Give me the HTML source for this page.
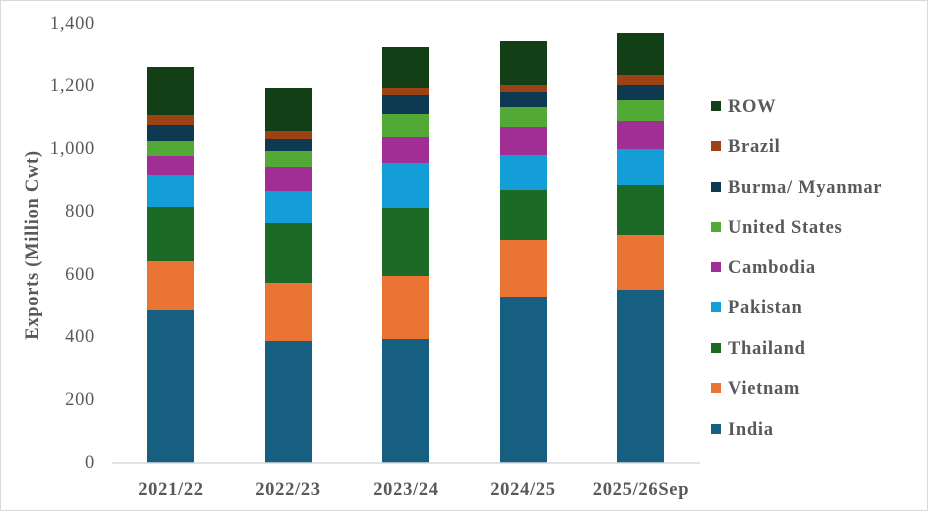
<!DOCTYPE html>
<html><head><meta charset="utf-8"><style>
body{margin:0;background:#fff}
svg{display:block}
text{font-family:"Liberation Serif",serif;fill:#595959;letter-spacing:0.7px}
</style></head><body>
<svg width="929" height="514" xmlns="http://www.w3.org/2000/svg">
<rect x="0.5" y="0.5" width="927" height="510" fill="#fff" stroke="#d9d9d9"/>
<g font-size="18.5" text-anchor="end">
<text x="95" y="468">0</text>
<text x="95" y="405">200</text>
<text x="95" y="342">400</text>
<text x="95" y="280">600</text>
<text x="95" y="217">800</text>
<text x="95" y="154">1,000</text>
<text x="95" y="91">1,200</text>
<text x="95" y="29">1,400</text>
</g>
<text transform="translate(38,245) rotate(-90)" font-size="18.5" font-weight="bold" text-anchor="middle">Exports (Million Cwt)</text>
<g>
<rect x="147" y="310" width="47" height="153" fill="#175f80"/>
<rect x="147" y="261" width="47" height="49" fill="#e97434"/>
<rect x="147" y="207" width="47" height="54" fill="#1b6a26"/>
<rect x="147" y="175" width="47" height="32" fill="#139ed8"/>
<rect x="147" y="156" width="47" height="19" fill="#a02e94"/>
<rect x="147" y="141" width="47" height="15" fill="#52a935"/>
<rect x="147" y="125" width="47" height="16" fill="#0d3a50"/>
<rect x="147" y="115" width="47" height="10" fill="#9c4214"/>
<rect x="147" y="67" width="47" height="48" fill="#133f17"/>

<rect x="265" y="341" width="47" height="122" fill="#175f80"/>
<rect x="265" y="283" width="47" height="58" fill="#e97434"/>
<rect x="265" y="223" width="47" height="60" fill="#1b6a26"/>
<rect x="265" y="191" width="47" height="32" fill="#139ed8"/>
<rect x="265" y="167" width="47" height="24" fill="#a02e94"/>
<rect x="265" y="151" width="47" height="16" fill="#52a935"/>
<rect x="265" y="139" width="47" height="12" fill="#0d3a50"/>
<rect x="265" y="131" width="47" height="8" fill="#9c4214"/>
<rect x="265" y="88" width="47" height="43" fill="#133f17"/>

<rect x="382" y="339" width="47" height="124" fill="#175f80"/>
<rect x="382" y="276" width="47" height="63" fill="#e97434"/>
<rect x="382" y="208" width="47" height="68" fill="#1b6a26"/>
<rect x="382" y="163" width="47" height="45" fill="#139ed8"/>
<rect x="382" y="137" width="47" height="26" fill="#a02e94"/>
<rect x="382" y="114" width="47" height="23" fill="#52a935"/>
<rect x="382" y="95" width="47" height="19" fill="#0d3a50"/>
<rect x="382" y="88" width="47" height="7" fill="#9c4214"/>
<rect x="382" y="47" width="47" height="41" fill="#133f17"/>

<rect x="500" y="297" width="47" height="166" fill="#175f80"/>
<rect x="500" y="240" width="47" height="57" fill="#e97434"/>
<rect x="500" y="190" width="47" height="50" fill="#1b6a26"/>
<rect x="500" y="155" width="47" height="35" fill="#139ed8"/>
<rect x="500" y="127" width="47" height="28" fill="#a02e94"/>
<rect x="500" y="107" width="47" height="20" fill="#52a935"/>
<rect x="500" y="92" width="47" height="15" fill="#0d3a50"/>
<rect x="500" y="85" width="47" height="7" fill="#9c4214"/>
<rect x="500" y="41" width="47" height="44" fill="#133f17"/>

<rect x="617" y="290" width="47" height="173" fill="#175f80"/>
<rect x="617" y="235" width="47" height="55" fill="#e97434"/>
<rect x="617" y="185" width="47" height="50" fill="#1b6a26"/>
<rect x="617" y="149" width="47" height="36" fill="#139ed8"/>
<rect x="617" y="121" width="47" height="28" fill="#a02e94"/>
<rect x="617" y="100" width="47" height="21" fill="#52a935"/>
<rect x="617" y="85" width="47" height="15" fill="#0d3a50"/>
<rect x="617" y="75" width="47" height="10" fill="#9c4214"/>
<rect x="617" y="33" width="47" height="42" fill="#133f17"/>
</g>
<line x1="112" y1="463" x2="700" y2="463" stroke="#d9d9d9" stroke-width="1.5"/>
<g font-size="18.5" font-weight="bold" text-anchor="middle">
<text x="171" y="495">2021/22</text>
<text x="288" y="495">2022/23</text>
<text x="406" y="495">2023/24</text>
<text x="523" y="495">2024/25</text>
<text x="641" y="495">2025/26Sep</text>
</g>
<g font-size="18.5" font-weight="bold">
<rect x="711" y="101" width="10" height="10" fill="#133f17"/><text x="728" y="112">ROW</text>
<rect x="711" y="141" width="10" height="10" fill="#9c4214"/><text x="728" y="152">Brazil</text>
<rect x="711" y="182" width="10" height="10" fill="#0d3a50"/><text x="728" y="193">Burma/ Myanmar</text>
<rect x="711" y="222" width="10" height="10" fill="#52a935"/><text x="728" y="233">United States</text>
<rect x="711" y="262" width="10" height="10" fill="#a02e94"/><text x="728" y="273">Cambodia</text>
<rect x="711" y="302" width="10" height="10" fill="#139ed8"/><text x="728" y="313">Pakistan</text>
<rect x="711" y="343" width="10" height="10" fill="#1b6a26"/><text x="728" y="354">Thailand</text>
<rect x="711" y="383" width="10" height="10" fill="#e97434"/><text x="728" y="394">Vietnam</text>
<rect x="711" y="424" width="10" height="10" fill="#175f80"/><text x="728" y="435">India</text>
</g>
</svg>
</body></html>
